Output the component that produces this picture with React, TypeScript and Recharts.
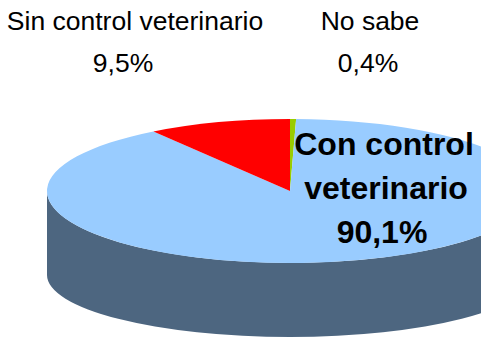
import React from 'react';
import { PieChart, Pie, Cell } from 'recharts';

const categories = ['No sabe', 'Con control veterinario', 'Sin control veterinario'];
const values = [0.4, 90.1, 9.5];
const sliceColors = ['#99CC00', '#99CCFF', '#FF0000'];
const wallColor = '#4D6680';

const SQUASH = 72 / 243;
const BOTTOM_SQUASH = 62 / 243;
const DEPTH = 84;
const RAD = Math.PI / 180;

const data = categories.map((name, i) => ({ name, value: values[i] }));

const at = (cx: number, cy: number, rx: number, deg: number, squash = SQUASH) => [
  cx + rx * Math.cos(deg * RAD),
  cy - rx * squash * Math.sin(deg * RAD),
];

// pie face, squashed into an ellipse
const FaceSlice = (props: any) => {
  const { cx, cy, outerRadius: rx, startAngle, endAngle, fill } = props;
  const [x0, y0] = at(cx, cy, rx, startAngle);
  const [x1, y1] = at(cx, cy, rx, endAngle);
  const large = Math.abs(startAngle - endAngle) > 180 ? 1 : 0;
  const d = `M${cx},${cy} L${x0},${y0} A${rx},${rx * SQUASH} 0 ${large} 1 ${x1},${y1} Z`;
  return <path d={d} fill={fill} />;
};

// side wall, only the part of the slice facing the viewer
const WallSlice = (props: any) => {
  const { cx, cy, outerRadius: rx, startAngle, endAngle } = props;
  const hi = Math.min(startAngle, 0);
  const lo = Math.max(endAngle, -180);
  if (lo >= hi) return <g />;
  const [x0, y0] = at(cx, cy, rx, hi);
  const [x1, y1] = at(cx, cy, rx, lo);
  const [bx0, by0] = at(cx, cy + DEPTH, rx, hi, BOTTOM_SQUASH);
  const [bx1, by1] = at(cx, cy + DEPTH, rx, lo, BOTTOM_SQUASH);
  const d = `M${x0},${y0} A${rx},${rx * SQUASH} 0 0 1 ${x1},${y1} L${bx1},${by1} A${rx},${rx * BOTTOM_SQUASH} 0 0 0 ${bx0},${by0} Z`;
  return <path d={d} fill={wallColor} />;
};

const labelRows: { x: number; y: number }[][] = [
  [{ x: 370, y: 30 }, { x: 368, y: 72 }],
  [{ x: 384, y: 155 }, { x: 386, y: 199 }, { x: 382, y: 243 }],
  [{ x: 135, y: 30 }, { x: 123, y: 72 }],
];
const labelLines = [
  ['No sabe'],
  ['Con control', 'veterinario'],
  ['Sin control veterinario'],
];

const renderLabel = (props: any) => {
  const { index } = props;
  const pct = values[index].toFixed(1).replace('.', ',') + '%';
  const lines = [...labelLines[index], pct];
  const big = index === 1;
  return (
    <g key={index}>
      {lines.map((t, i) => (
        <text
          key={t}
          x={labelRows[index][i].x}
          y={labelRows[index][i].y}
          textAnchor="middle"
          fontFamily="'Liberation Sans', Arial, sans-serif"
          fontSize={big ? 32 : 26.5}
          fontWeight={big ? 700 : 400}
          fill="#000"
        >
          {t}
        </text>
      ))}
    </g>
  );
};

const App = () => (
  <div style={{ position: 'absolute', left: 0, top: 0, width: 481, height: 337, overflow: 'hidden', background: '#fff' }}>
    <PieChart width={481} height={337} margin={{ top: 0, right: 0, bottom: 0, left: 0 }}>
      <Pie
        data={data}
        dataKey="value"
        cx={290}
        cy={191}
        outerRadius={243}
        startAngle={90}
        endAngle={-270}
        stroke="none"
        shape={WallSlice}
        isAnimationActive={false}
      />
      <Pie
        data={data}
        dataKey="value"
        cx={290}
        cy={191}
        outerRadius={243}
        startAngle={90}
        endAngle={-270}
        stroke="none"
        shape={FaceSlice}
        label={renderLabel}
        labelLine={false}
        isAnimationActive={false}
      >
        {data.map((d, i) => (
          <Cell key={d.name} fill={sliceColors[i]} />
        ))}
      </Pie>
    </PieChart>
  </div>
);

export default App;
